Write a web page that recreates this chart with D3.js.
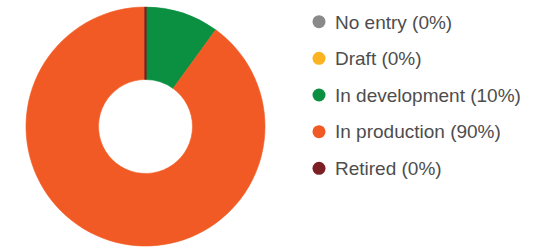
<!DOCTYPE html>
<html>
<head>
<meta charset="utf-8">
<script src="https://cdn.jsdelivr.net/npm/d3@7"></script>
<style>
  body { margin: 0; background: #fff; }
  svg { display: block; }
</style>
</head>
<body>
<svg id="chart" width="534" height="248"></svg>
<script>

var labels = ["No entry", "Draft", "In development", "In production", "Retired"];
var values = [0, 0, 10, 90, 0];
var colors = ["#8a8a8a", "#fbb321", "#0a9040", "#f15a24", "#7b1f24"];

var svg = d3.select("#chart");

var width = 534, height = 248;
var cx = 145.5, cy = 126.5;
var outer = 119.5, inner = 47;

var pie = d3.pie()
    .sort(null)
    .value(function(d) { return d; });

var arc = d3.arc()
    .innerRadius(inner)
    .outerRadius(outer);

var arcs = pie(values);

var g = svg.append("g")
    .attr("transform", "translate(" + cx + "," + cy + ")");

// zero slices are drawn too; their stroke leaves the thin line at the top
g.selectAll("path.slice")
    .data(arcs)
    .enter().append("path")
    .attr("class", "slice")
    .attr("d", arc)
    .attr("fill", function(d, i) { return colors[i]; })
    .attr("stroke", function(d, i) { return colors[i]; })
    .attr("stroke-width", function(d, i) { return values[i] == 0 ? 2.2 : 0.6; });

var y = d3.scalePoint()
    .domain(labels)
    .range([21.7, 168.3]);

var legend = svg.append("g")
    .attr("class", "legend");

var item = legend.selectAll("g.item")
    .data(labels)
    .enter().append("g")
    .attr("class", "item")
    .attr("transform", function(d) { return "translate(319," + y(d) + ")"; });

item.append("circle")
    .attr("r", 6.5)
    .attr("fill", function(d, i) { return colors[i]; });

item.append("text")
    .attr("x", 16)
    .attr("dy", "0.36em")
    .attr("font-family", "Liberation Sans, Arial, sans-serif")
    .attr("font-size", 19)
    .attr("fill", "#4d4d4d")
    .text(function(d, i) { return d + " (" + values[i] + "%)"; });

</script>
</body>
</html>
